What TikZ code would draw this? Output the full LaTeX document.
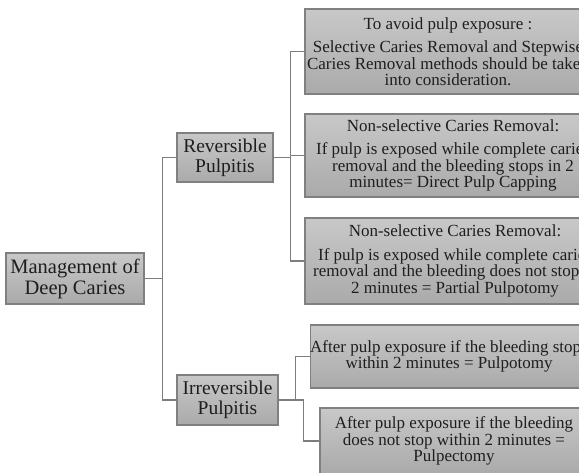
\documentclass[tikz,border=0pt]{standalone}
\usepackage{fontspec}
\setmainfont{Liberation Serif}
\definecolor{boxtop}{RGB}{200,200,200}
\definecolor{boxbottom}{RGB}{170,170,170}
\definecolor{boxline}{RGB}{128,128,128}
\definecolor{linkgray}{RGB}{125,125,125}
\definecolor{inktext}{RGB}{30,30,30}
\begin{document}
\begin{tikzpicture}[x=1pt, y=-1pt,
    box/.style={draw=boxline, line width=1.1pt, rectangle, top color=boxtop, bottom color=boxbottom,
        text=inktext, align=center, inner sep=0pt},
    leafbox/.style={box, font=\fontsize{17}{16.5}\selectfont},
    midbox/.style={box, font=\fontsize{19.5}{20}\selectfont},
    link/.style={draw=linkgray, line width=1.3pt}]

    \useasboundingbox (0,0) rectangle (579,472);
    \clip (0,0) rectangle (579,472);

    % Root
    \node[box, font=\fontsize{20.5}{21}\selectfont, minimum width=138pt, minimum height=51pt]
        (root) at (75,278.5) {Management of\\Deep Caries};

    % Diagnosis
    \node[midbox, minimum width=96pt, minimum height=49pt] (rev) at (225,157.5) {Reversible\\Pulpitis};
    \node[midbox, minimum width=101pt, minimum height=50pt] (irr) at (227.5,400) {Irreversible\\Pulpitis};

    % Reversible treatment
    \node[leafbox, minimum width=286pt, minimum height=85pt] (b1) at (448,51.5)
        {To avoid pulp exposure :\\[7pt]Selective Caries Removal and Stepwise\\Caries Removal methods should be taken\\into consideration.};
    \node[leafbox, minimum width=296pt, minimum height=83pt] (b2) at (453,155.5)
        {Non-selective Caries Removal:\\[7pt]If pulp is exposed while complete caries\\removal and the bleeding stops in 2\\minutes= Direct Pulp Capping};
    \node[leafbox, minimum width=300pt, minimum height=86pt] (b3) at (455,261)
        {Non-selective Caries Removal:\\[7pt]If pulp is exposed while complete caries\\removal and the bleeding does not stop in\\2 minutes = Partial Pulpotomy};

    % Irreversible treatment
    \node[leafbox, minimum width=276pt, minimum height=63pt] (b4) at (449,356.5)
        {After pulp exposure if the bleeding stops\\within 2 minutes = Pulpotomy};
    \node[leafbox, minimum width=268pt, minimum height=66pt] (b5) at (454,441)
        {After pulp exposure if the bleeding\\does not stop within 2 minutes =\\Pulpectomy};

    % Links
    \draw[link] (root.east) -- ++(18,0) |- (rev.west);
    \draw[link] (root.east) -- ++(18,0) |- (irr.west);
    \draw[link] (rev.east) -- ++(17,0) |- (b1.west);
    \draw[link] (rev.east) -- ++(17,0) |- (b2.west);
    \draw[link] (rev.east) -- ++(17,0) |- (b3.west);
    \draw[link] (irr.east) -- ++(17,0) |- (b4.west);
    \draw[link] (irr.east) -- ++(25,0) |- (b5.west);
\end{tikzpicture}
\end{document}
